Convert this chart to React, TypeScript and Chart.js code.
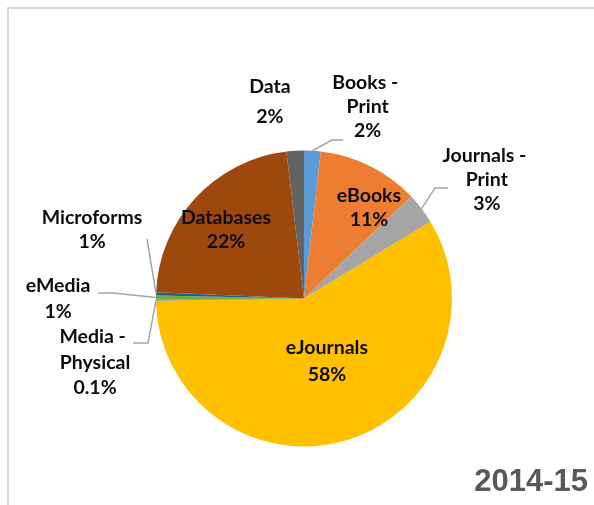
import React, { useEffect, useRef } from "react";
import { Chart, registerables } from "chart.js";

Chart.register(...registerables);

const categories = [
  "Books - Print",
  "eBooks",
  "Journals - Print",
  "eJournals",
  "Media - Physical",
  "eMedia",
  "Microforms",
  "Databases",
  "Data",
];
const values = [1.8, 11.1, 3.4, 58.4, 0.1, 0.45, 0.35, 22.4, 1.9];
const percentLabels = ["2%", "11%", "3%", "58%", "0.1%", "1%", "1%", "22%", "2%"];
const sliceColors = [
  "#5B9BD5",
  "#ED7D31",
  "#A5A5A5",
  "#FFC000",
  "#4472C4",
  "#70AD47",
  "#255E91",
  "#9E480E",
  "#636363",
];
const yearLabel = "2014-15";

// label layout, in units of the pie radius relative to the pie centre
type LabelLayout = { x: number; y: number; lh: number; leader?: [number, number][] };
const labelLayout: LabelLayout[] = [
  { x: 0.43, y: -1.456, lh: 24, leader: [[0.189, -1.071], [0.264, -1.071]] },
  { x: 0.439, y: -0.693, lh: 24 },
  { x: 1.235, y: -0.963, lh: 24, leader: [[0.885, -0.747], [0.973, -0.747]] },
  { x: 0.155, y: 0.334, lh: 27 },
  { x: -1.412, y: 0.26, lh: 25.5, leader: [[-1.054, 0.301], [-1.155, 0.301]] },
  { x: -1.662, y: -0.084, lh: 26, leader: [[-1.291, -0.037], [-1.392, -0.037]] },
  { x: -1.432, y: -0.544, lh: 24, leader: [[-1.061, -0.402]] },
  { x: -0.527, y: -0.544, lh: 24 },
  { x: -0.23, y: -1.429, lh: 30 },
];

function wrapName(name: string): string[] {
  const idx = name.indexOf(" - ");
  if (idx < 0) return [name];
  return [name.slice(0, idx) + " - ", name.slice(idx + 3)];
}

const decorPlugin = {
  id: "decor",
  beforeDraw(chart: any) {
    const ctx = chart.ctx;
    ctx.save();
    ctx.fillStyle = "#ffffff";
    ctx.fillRect(0, 0, chart.width, chart.height);
    ctx.fillStyle = "#D9D9D9";
    ctx.fillRect(7, 7, chart.width - 7, 2);
    ctx.fillRect(7, 7, 2, chart.height - 7);
    ctx.restore();
  },
  afterDraw(chart: any) {
    const ctx = chart.ctx;
    const meta = chart.getDatasetMeta(0);
    ctx.save();
    meta.data.forEach((arc: any, i: number) => {
      const lay = labelLayout[i];
      const cx = arc.x;
      const cy = arc.y;
      const R = arc.outerRadius;
      if (lay.leader) {
        const mid = (arc.startAngle + arc.endAngle) / 2;
        ctx.beginPath();
        ctx.moveTo(cx + Math.cos(mid) * R, cy + Math.sin(mid) * R);
        lay.leader.forEach((p) => ctx.lineTo(cx + p[0] * R, cy + p[1] * R));
        ctx.strokeStyle = "#A6A6A6";
        ctx.lineWidth = 1.5;
        ctx.stroke();
      }
      const lines = [...wrapName(categories[i]), percentLabels[i]];
      ctx.font = "bold 19.5px Lato";
      ctx.fillStyle = "#0D0D0D";
      ctx.textAlign = "center";
      ctx.textBaseline = "middle";
      lines.forEach((t, k) => {
        ctx.fillText(t, cx + lay.x * R, cy + lay.y * R + k * lay.lh);
      });
    });
    ctx.font = "bold 31px 'Liberation Sans', Arial";
    ctx.fillStyle = "#595959";
    ctx.textAlign = "right";
    ctx.textBaseline = "alphabetic";
    ctx.fillText(yearLabel, 588, 491);
    ctx.restore();
  },
};

export default function App() {
  const ref = useRef<HTMLCanvasElement | null>(null);
  useEffect(() => {
    document.body.style.margin = "0";
    if (!ref.current) return;
    const chart = new Chart(ref.current, {
      type: "pie",
      data: {
        labels: categories,
        datasets: [
          {
            data: values,
            backgroundColor: sliceColors,
            borderWidth: 0,
          },
        ],
      },
      options: {
        animation: false,
        responsive: false,
        devicePixelRatio: 1,
        layout: { padding: { top: 150, bottom: 58, left: 156, right: 142 } },
        plugins: {
          legend: { display: false },
          tooltip: { enabled: false },
        },
      },
      plugins: [decorPlugin],
    });
    return () => chart.destroy();
  }, []);
  return (
    <div style={{ width: 594, height: 505 }}>
      <canvas ref={ref} width={594} height={505} style={{ display: "block" }} />
    </div>
  );
}
